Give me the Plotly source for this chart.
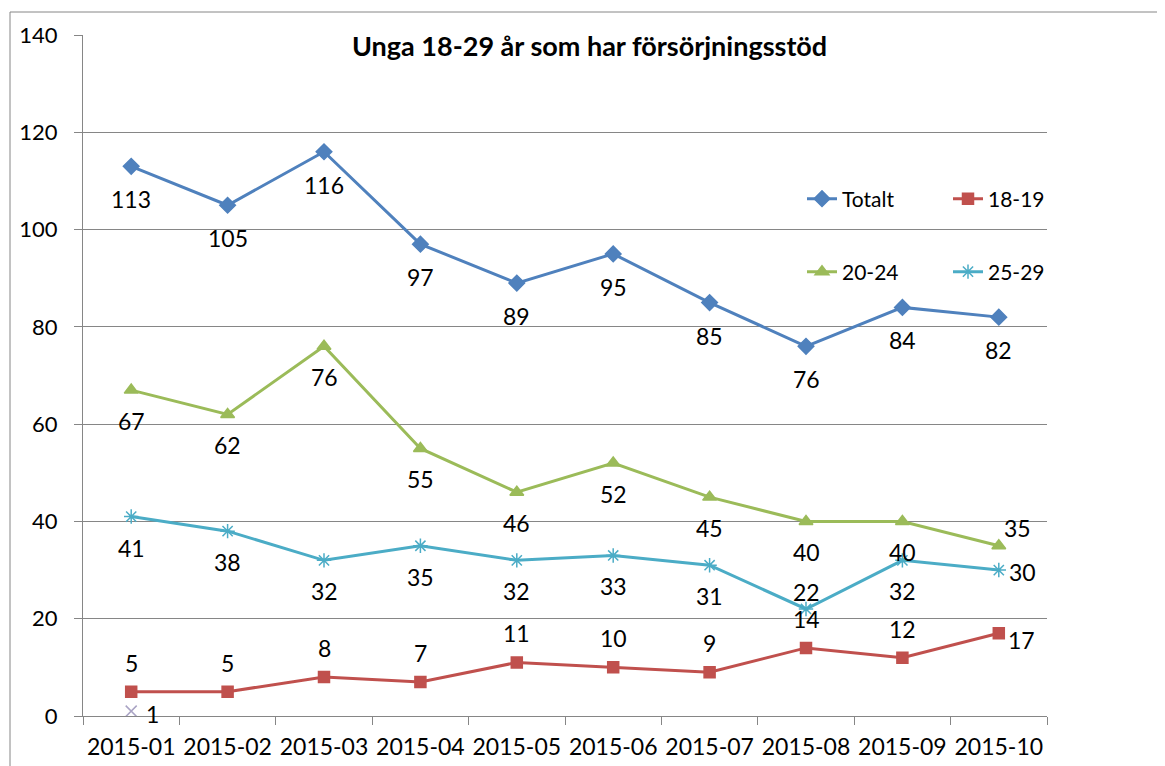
import plotly.graph_objects as go

months = ["2015-01", "2015-02", "2015-03", "2015-04", "2015-05",
          "2015-06", "2015-07", "2015-08", "2015-09", "2015-10"]
totalt = [113, 105, 116, 97, 89, 95, 85, 76, 84, 82]
age_18_19 = [5, 5, 8, 7, 11, 10, 9, 14, 12, 17]
age_20_24 = [67, 62, 76, 55, 46, 52, 45, 40, 40, 35]
age_25_29 = [41, 38, 32, 35, 32, 33, 31, 22, 32, 30]
extra_months = ["2015-01"]
extra_vals = [1]

title = "Unga 18-29 år som har försörjningsstöd"
FONT = "Lato"

series = [
    dict(name="Totalt", y=totalt, color="#4F81BD", symbol="diamond", size=12,
         legend="legend", lab=(0, -33), over={}),
    dict(name="18-19", y=age_18_19, color="#C0504D", symbol="square", size=11,
         legend="legend", lab=(0, 29), over={9: (23, -7)}),
    dict(name="20-24", y=age_20_24, color="#9BBB59", symbol="triangle-up", size=12,
         legend="legend2", lab=(0, -31), over={9: (19, 18)}),
    dict(name="25-29", y=age_25_29, color="#4BACC6", symbol="asterisk-open", size=12,
         legend="legend2", lab=(0, -31), over={7: (0, 17), 9: (24, -2)}),
]

# page body adds an 8px offset; compensate so the plot area lands at
# x 83..1047, y 35..716 in the screenshot
OFF = 8
W, H = 1165, 766
L, T = 83 - OFF, 35 - OFF
R, B = W - (1047 - OFF), H - (716 - OFF)
pw, ph = W - L - R, H - T - B


def px(xs):
    return (xs - OFF - L) / pw


def py(ys):
    return (H - B - (ys - OFF)) / ph


fig = go.Figure()
annotations = []
for s in series:
    fig.add_trace(go.Scatter(
        x=months, y=s["y"], name=s["name"], mode="lines+markers",
        line=dict(color=s["color"], width=3),
        marker=dict(symbol=s["symbol"], size=s["size"], color=s["color"],
                    line=dict(color=s["color"], width=1.5)),
        legend=s["legend"],
    ))
    for i, (m, v) in enumerate(zip(months, s["y"])):
        dx, dy = s["over"].get(i, s["lab"])
        annotations.append(dict(x=m, y=v, xref="x", yref="y", text=str(v),
                                showarrow=False, xshift=dx, yshift=dy,
                                font=dict(family=FONT, size=23, color="#000000")))

fig.add_trace(go.Scatter(
    x=extra_months, y=extra_vals, mode="markers", showlegend=False,
    marker=dict(symbol="x-thin-open", size=11, color="#A9A3C4",
                line=dict(color="#A9A3C4", width=1.5)),
))
for m, v in zip(extra_months, extra_vals):
    annotations.append(dict(x=m, y=v, xref="x", yref="y", text=str(v),
                            showarrow=False, xshift=21, yshift=-3,
                            font=dict(family=FONT, size=23, color="#000000")))

annotations.append(dict(x=px(589), y=py(45), xref="paper", yref="paper",
                        xanchor="center", yanchor="middle",
                        text="<b>" + title + "</b>", showarrow=False,
                        font=dict(family=FONT, size=27, color="#000000")))

fig.update_layout(
    width=W, height=H,
    margin=dict(l=L, r=R, t=T, b=B, pad=0, autoexpand=False),
    paper_bgcolor="white", plot_bgcolor="white",
    font=dict(family=FONT, size=22, color="#000000"),
    annotations=annotations,
    legend=dict(orientation="h", x=px(802), y=py(199),
                xanchor="left", yanchor="middle", bgcolor="rgba(0,0,0,0)",
                entrywidth=101, entrywidthmode="pixels",
                font=dict(family=FONT, size=21)),
    legend2=dict(orientation="h", x=px(802), y=py(272),
                 xanchor="left", yanchor="middle", bgcolor="rgba(0,0,0,0)",
                 entrywidth=101, entrywidthmode="pixels",
                 font=dict(family=FONT, size=21)),
    xaxis=dict(type="category", range=[-0.5, 9.5], tickson="boundaries",
               ticks="outside", ticklen=8, tickcolor="#868686", tickangle=0,
               automargin=False, ticklabelstandoff=10,
               showline=True, linecolor="#868686", linewidth=1,
               showgrid=False, tickfont=dict(family=FONT, size=23)),
    yaxis=dict(range=[0, 140], dtick=20, ticks="outside", ticklen=8,
               tickcolor="#868686", showline=True, linecolor="#868686",
               automargin=False, ticklabelstandoff=12,
               linewidth=1, showgrid=True, gridcolor="#868686", gridwidth=1,
               zeroline=False, tickfont=dict(family=FONT, size=22)),
    shapes=[dict(type="rect", xref="paper", yref="paper",
                 x0=px(10), x1=1.3, y0=-0.3, y1=py(12),
                 line=dict(color="#868686", width=1), fillcolor="rgba(0,0,0,0)",
                 layer="below")],
)

fig.write_html("out.html")
